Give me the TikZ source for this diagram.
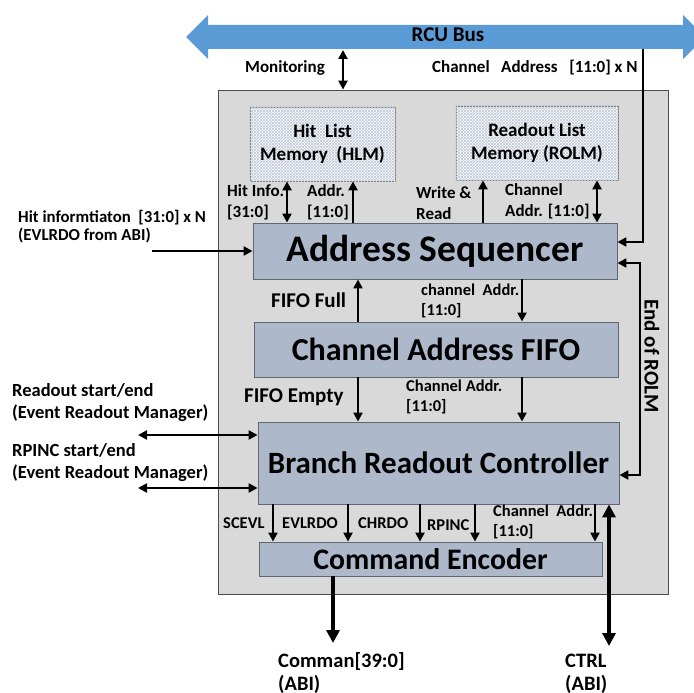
\documentclass[tikz,border=0pt]{standalone}
\usepackage{fontspec}
\setmainfont{Carlito}
\usetikzlibrary{arrows.meta,patterns}
\definecolor{busblue}{HTML}{5B9BD5}
\definecolor{blockfill}{HTML}{ADB9CA}
\definecolor{blockline}{HTML}{5F6670}
\definecolor{framefill}{HTML}{D9D9D9}
\definecolor{hatch}{HTML}{BFC8D6}
\tikzset{
  block/.style={draw=blockline, line width=0.9pt, fill=blockfill, inner sep=0pt},
  memory/.style={draw=gray, line width=0.7pt, fill=white, inner sep=0pt, align=center,
    font=\bfseries\fontsize{19}{23}\selectfont},
  lbl/.style={anchor=west, inner sep=0pt, align=left, font=\bfseries\fontsize{17}{21}\selectfont},
  sml/.style={anchor=west, inner sep=0pt, align=left, font=\bfseries\fontsize{16.5}{20}\selectfont},
  biglbl/.style={anchor=west, inner sep=0pt, align=left, font=\bfseries\fontsize{18.5}{22}\selectfont},
  huge/.style={anchor=west, inner sep=0pt, align=left, font=\bfseries\fontsize{21}{24}\selectfont},
  sig/.style={line width=2.4pt, -{Triangle[length=9pt,width=9pt]}},
  dsig/.style={line width=2.4pt, {Triangle[length=9pt,width=9pt]}-{Triangle[length=9pt,width=9pt]}},
  line/.style={line width=2.4pt},
  fat/.style={line width=3.6pt, -{Triangle[length=13pt,width=13pt]}},
  dfat/.style={line width=3.6pt, {Triangle[length=13pt,width=13pt]}-{Triangle[length=13pt,width=13pt]}},
}
\begin{document}
\begin{tikzpicture}[x=1pt,y=-1pt]
\clip (0,0) rectangle (694,693);
\fill[white] (0,0) rectangle (694,693);

% RCU bus
\fill[busblue] (186,37) -- (208,15) -- (208,25) -- (683,25) -- (683,15) -- (705,37)
  -- (683,59) -- (683,49) -- (208,49) -- (208,59) -- cycle;
\node[inner sep=0pt, font=\bfseries\fontsize{21}{24}\selectfont] (bus) at (448,35) {RCU Bus};

% enclosing frame
\node[draw=black!70, line width=0.8pt, fill=framefill, minimum width=450pt, minimum height=504pt,
  inner sep=0pt] (frame) at (443,342) {};

% memories
\node[memory, minimum width=145pt, minimum height=74pt] (hlm) at (322.5,144) {};
\node[memory, minimum width=162pt, minimum height=74pt] (rolm) at (537,143) {};
\foreach \m in {hlm,rolm}{
  \fill[pattern=north east lines, pattern color=hatch] (\m.south west) rectangle (\m.north east);
  \fill[pattern=north west lines, pattern color=hatch] (\m.south west) rectangle (\m.north east);
}
\node[memory, draw=none, fill=none] at (hlm.center) {Hit~ List\\Memory~ (HLM)};
\node[memory, draw=none, fill=none] at (rolm.center) {Readout List\\Memory (ROLM)};

% processing blocks
\node[block, minimum width=364pt, minimum height=56pt, font=\bfseries\fontsize{37.5}{42}\selectfont]
  (as) at (435,251) {Address Sequencer};
\node[block, minimum width=364pt, minimum height=55pt, font=\bfseries\fontsize{32}{36}\selectfont]
  (fifo) at (436,349.5) {Channel Address FIFO};
\node[block, minimum width=361pt, minimum height=82pt, font=\bfseries\fontsize{31}{36}\selectfont]
  (brc) at (438.5,463) {Branch Readout Controller};
\node[block, minimum width=343pt, minimum height=34pt, font=\bfseries\fontsize{29.8}{33}\selectfont]
  (ce) at (430.5,559) {Command Encoder};

% helper coordinates
\coordinate (montop) at (343,50);
\coordinate (cbus) at (643,49);
\coordinate (xhi) at (287,0);
\coordinate (xad) at (353,0);
\coordinate (xwr) at (483,0);
\coordinate (xca) at (597,0);
\coordinate (xff) at (358,0);
\coordinate (xcf) at (522,0);
\coordinate (hitsrc) at (152,251);
\coordinate (ros) at (138,435);
\coordinate (rps) at (138,488);
\coordinate (xrolm) at (640,370);
\coordinate (x1) at (273,0);
\coordinate (x2) at (348,0);
\coordinate (x3) at (420,0);
\coordinate (x4) at (475,0);
\coordinate (x5) at (595,0);
\coordinate (cmdout) at (333,643);
\coordinate (ctrlout) at (609,646);

% bus connections
\draw[dsig] (montop) -- (frame.north -| montop);
\draw[line, -{Triangle[length=9pt,width=9pt]}] (cbus) |- ([yshift=9pt]as.east);

% memory interfaces
\draw[dsig] (hlm.south -| xhi) -- (as.north -| xhi);
\draw[sig] (as.north -| xad) -- (hlm.south -| xad);
\draw[sig] (as.north -| xwr) -- (rolm.south -| xwr);
\draw[dsig] (rolm.south -| xca) -- (as.north -| xca);

% hit information input
\draw[sig] (hitsrc) -- (as.west);

% FIFO links
\draw[sig] (fifo.north -| xff) -- (as.south -| xff);
\draw[sig] (as.south -| xcf) -- (fifo.north -| xcf);
\draw[sig] (fifo.south -| xff) -- (brc.north -| xff);
\draw[sig] (fifo.south -| xcf) -- (brc.north -| xcf);

% event readout manager handshakes
\draw[dsig] (ros) -- (brc.west |- ros);
\draw[dsig] (rps) -- (brc.west |- rps);

% end of ROLM feedback
\draw[dsig] ([yshift=-12pt]as.east) -| (xrolm) |- ([yshift=-12pt]brc.east);

% controller to encoder
\foreach \c in {x1,x2,x3,x4,x5}
  \draw[sig] (brc.south -| \c) -- (ce.north -| \c);

% outputs
\draw[fat] (ce.south -| cmdout) -- (cmdout);
\draw[dfat] (brc.south -| ctrlout) -- (ctrlout);

% labels
\node[lbl] at (245,68) {Monitoring};
\node[lbl] at (432,68) {Channel~~ Address~~ [11:0] x N};
\node[lbl] at (227,202.5) {Hit Info.\\{[31:0]}};
\node[lbl] at (307,202.5) {Addr.\\{[11:0]}};
\node[lbl] at (416,203.5) {Write \&\\Read};
\node[lbl] at (505,201.5) {Channel\\Addr. [11:0]};
\node[sml, font=\bfseries\fontsize{16.8}{18}\selectfont] at (18,227) {Hit informtiaton~ [31:0] x N\\(EVLRDO from ABI)};
\node[huge] at (271,300) {FIFO Full};
\node[sml] at (421,300.5) {channel~ Addr.\\{[11:0]}};
\node[huge] at (244,397) {FIFO Empty};
\node[sml] at (406,396.5) {Channel Addr.\\{[11:0]}};
\node[biglbl] at (12,403) {Readout start/end\\(Event Readout Manager)};
\node[biglbl] at (12,463) {RPINC start/end\\(Event Readout Manager)};
\node[sml] at (223,523) {SCEVL};
\node[sml] at (282,523) {EVLRDO};
\node[sml] at (358,523) {CHRDO};
\node[sml] at (427,525) {RPINC};
\node[sml] at (493,522) {Channel~ Addr.\\{[11:0]}};
\node[inner sep=0pt, rotate=-90, font=\bfseries\fontsize{21}{24}\selectfont] at (652,356) {End of ROLM};
\node[huge, font=\bfseries\fontsize{20.5}{23}\selectfont] at (278,673.5) {Comman[39:0]\\(ABI)};
\node[huge, font=\bfseries\fontsize{20.5}{23}\selectfont] at (565,673.5) {CTRL\\(ABI)};
\end{tikzpicture}
\end{document}
